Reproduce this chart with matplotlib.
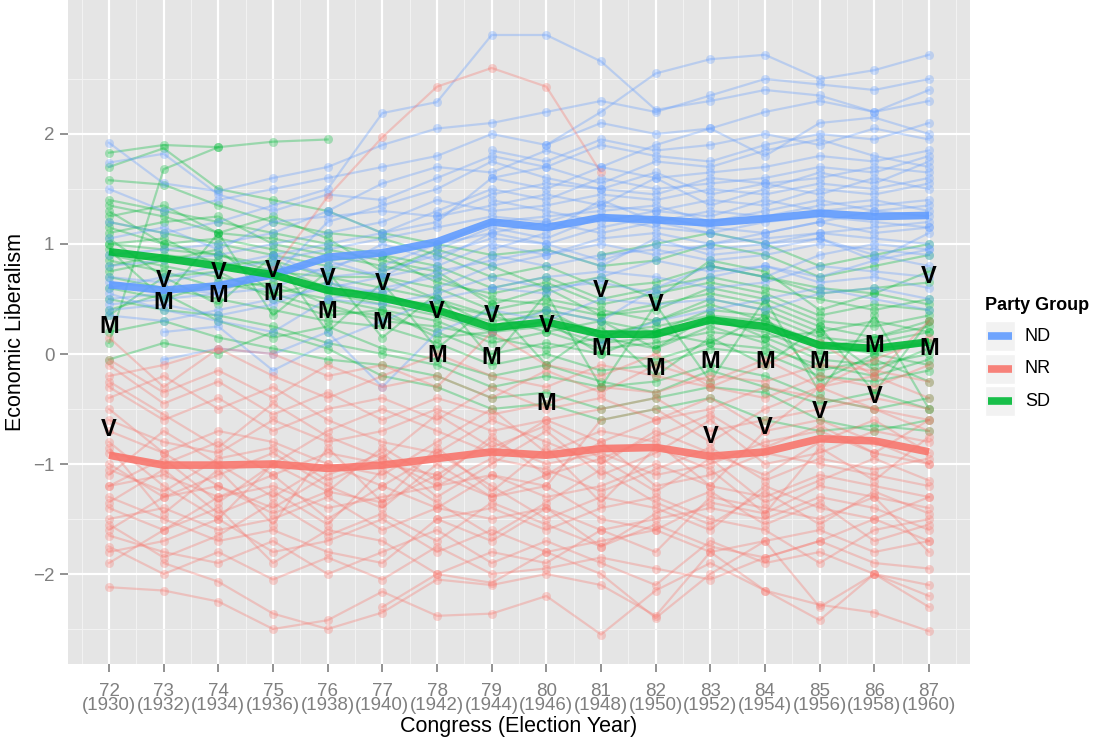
import matplotlib
matplotlib.use("Agg")
import matplotlib.pyplot as plt
import numpy as np
from matplotlib.patches import Rectangle
from matplotlib.lines import Line2D

plt.rcParams['font.family'] = ['Liberation Sans', 'DejaVu Sans']

congress = [72, 73, 74, 75, 76, 77, 78, 79, 80, 81, 82, 83, 84, 85, 86, 87]
years = [1930, 1932, 1934, 1936, 1938, 1940, 1942, 1944, 1946, 1948, 1950, 1952, 1954, 1956, 1958, 1960]
groups = ["ND", "NR", "SD"]
colors = {"ND": "#619CFF", "NR": "#F8766D", "SD": "#00BA38"}

mean_nd = [0.63, 0.58, 0.62, 0.72, 0.88, 0.92, 1.02, 1.20, 1.15, 1.24, 1.22, 1.19, 1.23, 1.28, 1.25, 1.26]
mean_nr = [-0.92, -1.01, -1.01, -1.00, -1.04, -1.01, -0.95, -0.89, -0.92, -0.86, -0.85, -0.93, -0.89, -0.77, -0.79, -0.89]
mean_sd = [0.93, 0.87, 0.80, 0.72, 0.58, 0.51, 0.40, 0.24, 0.29, 0.18, 0.18, 0.31, 0.25, 0.08, 0.05, 0.11]

# M / V label positions per congress
m_pos = [0.25, 0.47, 0.53, 0.55, 0.39, 0.29, -0.01, -0.03, -0.45, 0.05, -0.13, -0.07, -0.07, -0.07, 0.08, 0.05]
v_pos = [-0.69, 0.67, 0.74, 0.76, 0.69, 0.64, 0.39, 0.35, 0.26, 0.58, 0.45, -0.75, -0.67, -0.52, -0.39, 0.70]

N = None
nd_members = [
    [1.92, 1.55, 1.48, 1.60, 1.70, 1.90, 2.05, 2.10, 2.20, 2.30, 2.20, 2.35, 2.50, 2.45, 2.40, 2.50],
    [1.20, 1.10, 1.20, 1.35, 1.50, 2.19, 2.29, 2.90, 2.90, 2.66, 2.22, 2.30, 2.40, 2.35, 2.20, 2.30],
    [N, N, N, N, N, N, N, N, 1.90, 2.20, 2.55, 2.68, 2.72, 2.50, 2.58, 2.72],
    [1.74, 1.82, 1.45, 1.30, 1.45, 1.40, 1.60, 1.80, 1.70, 1.90, 1.80, 1.75, 1.90, 2.00, 1.95, 2.10],
    [0.90, 0.95, 1.00, 1.10, 1.30, 1.55, 1.70, 1.65, 1.85, 1.70, 1.90, 2.05, 1.80, 2.10, 2.15, 2.00],
    [0.60, 0.70, 0.80, 0.90, 1.00, 1.10, 1.30, 1.50, 1.40, 1.60, 1.50, 1.55, 1.60, 1.70, 1.65, 1.80],
    [0.45, 0.50, 0.55, 0.60, 0.80, 0.90, 1.00, 1.20, 1.25, 1.30, 1.35, 1.20, 1.30, 1.40, 1.30, 1.35],
    [0.35, 0.30, 0.40, 0.50, 0.60, 0.70, 0.80, 1.00, 0.90, 1.05, 1.10, 1.00, 1.05, 1.10, 1.15, 1.20],
    [0.55, 0.40, 0.30, 0.20, 0.50, 0.60, 0.70, 0.90, 0.80, 0.90, 0.95, 0.85, 0.90, 1.00, 0.95, 0.90],
    [N, 0.20, 0.25, -0.15, 0.10, 0.30, 0.50, 0.60, 0.70, 0.75, 0.70, 0.60, 0.65, 0.80, 0.75, 0.70],
    [N, -0.05, 0.05, 0.00, 0.20, -0.30, 0.20, 0.40, 0.30, 0.50, 0.45, 0.50, 0.40, 0.55, 0.60, 0.50],
    [0.80, 0.85, 0.90, 1.00, 1.10, 1.20, 1.40, 1.30, 1.35, 1.45, 1.40, 1.50, 1.45, 1.55, 1.50, 1.60],
    [N, N, N, N, 1.30, 1.10, 1.20, 1.60, 1.50, 1.70, 1.60, 1.65, 1.70, 1.80, 1.75, 1.85],
    [N, N, N, N, N, 0.80, 1.00, 1.10, 1.20, 1.10, 1.20, 1.30, 1.25, 1.35, 1.40, 1.30],
    [N, N, N, N, N, N, 0.60, 0.80, 0.90, 1.00, 0.90, 1.00, 1.10, 1.20, 1.10, 1.15],
    [N, N, N, N, N, N, N, 1.40, 1.30, 1.20, 1.30, 1.40, 1.35, 1.50, 1.45, 1.55],
    [N, N, N, N, N, N, N, 0.20, 0.40, 0.30, 0.60, 0.80, 0.70, 0.90, 1.00, 0.95],
    [0.70, 0.65, 0.75, 0.85, 0.95, 1.05, 1.15, 1.25, 1.20, 1.35, 1.30, 1.25, 1.40, 1.30, 1.35, 1.40],
    [1.50, 1.30, 1.40, 1.50, 1.60, 1.70, 1.80, 2.00, 1.90, 2.10, 2.00, 2.05, 2.20, 2.30, 2.20, 2.40],
    [N, N, N, 0.90, 0.70, 0.75, 0.90, 1.05, 1.00, 0.85, 1.00, 0.95, 1.00, 1.10, 1.05, 1.00],
    [N, N, N, N, N, N, N, N, N, 0.10, 0.30, 0.40, 0.50, 0.60, 0.50, 0.40],
    [0.50, 0.55, 0.65, 0.75, 0.85, 0.70, 0.95, 1.15, 1.05, 1.25, 1.15, 1.10, 1.20, 1.25, 1.20, 1.15],
    [N, N, 0.60, 0.70, 1.20, 1.35, 1.50, 1.75, 1.60, 1.50, 1.65, 1.45, 1.55, 1.60, 1.70, 1.65],
    [N, N, N, N, N, N, N, 0.95, 1.10, 1.40, 1.20, 1.10, 1.00, 1.05, 0.90, 0.80],
    [0.40, 0.45, 0.35, 0.45, 0.65, 0.55, 0.75, 0.85, 0.95, 0.80, 1.05, 0.90, 0.95, 1.05, 0.85, 1.10],
    [1.05, 1.15, 0.95, 1.20, 1.25, 1.30, 1.25, 1.45, 1.55, 1.50, 1.45, 1.60, 1.55, 1.45, 1.60, 1.50],
    [N, N, N, N, N, N, N, 1.85, 1.75, 1.95, 1.85, 1.90, 2.00, 1.90, 2.05, 1.95],
    [N, N, N, N, N, N, N, 0.60, 0.55, 0.70, 0.85, 0.75, 0.80, 0.70, 0.85, 0.95],
    [0.65, 0.60, 0.55, 0.80, 0.75, 1.00, 0.85, 1.10, 1.00, 1.15, 1.25, 1.15, 1.10, 1.20, 1.30, 1.25],
    [N, N, N, N, N, N, N, 1.60, 1.70, 1.55, 1.75, 1.70, 1.85, 1.95, 1.80, 1.70],
    [N, N, N, N, 0.50, 0.45, 0.55, 0.70, 0.60, 0.65, 0.55, 0.70, 0.80, 0.65, 0.70, 0.60],
    [N, N, N, N, N, N, 1.25, 1.35, 1.45, 1.35, 1.60, 1.35, 1.50, 1.65, 1.55, 1.75],
]

nr_members = [
    [0.15, -0.30, 0.05, 0.00, -0.20, -0.10, -0.30, 0.20, -0.10, -0.20, 0.00, -0.30, -0.10, 0.10, -0.20, 0.30],
    [-0.30, -0.60, -0.40, -0.70, -0.50, -0.40, -0.60, -0.30, -0.50, -0.40, -0.60, -0.50, -0.30, -0.40, -0.50, -0.60],
    [-0.60, -0.80, -0.90, -0.60, -0.80, -0.70, -0.50, -0.70, -0.60, -0.50, -0.40, -0.70, -0.60, -0.50, -0.40, -0.50],
    [-0.90, -1.00, -0.80, -1.10, -0.90, -1.00, -1.10, -0.80, -1.00, -0.90, -1.10, -1.00, -0.80, -0.70, -0.90, -1.00],
    [-1.20, -1.10, -1.30, -1.20, -1.40, -1.30, -1.20, -1.10, -1.30, -1.20, -1.00, -1.20, -1.30, -1.10, -1.20, -1.30],
    [-1.50, -1.40, -1.60, -1.50, -1.30, -1.60, -1.40, -1.50, -1.40, -1.60, -1.50, -1.40, -1.50, -1.30, -1.40, -1.60],
    [-1.80, -1.70, -1.50, -1.80, -1.70, -1.50, -1.80, -1.60, -1.80, -1.70, -1.60, -1.80, -1.70, -1.60, -1.80, -1.70],
    [-2.12, -2.15, -2.25, -2.50, -2.42, -2.16, -2.38, -2.36, -2.20, -2.55, -2.15, -1.90, -2.15, -2.28, -2.35, -2.52],
    [N, -1.90, -2.07, -2.36, -2.50, -2.35, -2.05, -2.10, -2.00, -2.10, -2.38, -1.80, -2.15, -2.42, -2.00, -2.30],
    [-0.40, -0.20, -0.50, -0.30, -0.60, -0.80, -0.90, -0.60, -0.80, -1.00, -0.70, -0.90, -1.10, -0.80, -0.60, -0.90],
    [-1.00, -1.30, -1.10, -0.90, -1.20, -1.40, -1.00, -1.30, -1.10, -0.80, -1.20, -1.10, -0.90, -1.00, -1.10, -1.20],
    [-0.70, -0.90, -1.20, -1.40, -1.10, -0.90, -1.30, -1.00, -0.70, -1.10, -0.90, -0.60, -1.00, -0.90, -0.70, -0.80],
    [-1.40, -1.60, -1.30, -1.10, -1.50, -1.20, -0.90, -1.20, -1.50, -1.30, -1.40, -1.60, -1.20, -1.40, -1.50, -1.30],
    [-1.65, -1.80, -1.90, -1.70, -2.00, -1.80, -1.60, -1.90, -1.70, -1.90, -2.10, -1.70, -1.90, -1.80, -2.00, -2.10],
    [-0.20, -0.10, 0.05, -0.20, -0.40, -0.20, 0.00, -0.20, -0.30, -0.10, -0.20, -0.30, -0.40, -0.20, -0.30, -0.10],
    [N, N, N, 0.76, 1.43, 1.97, 2.43, 2.60, 2.43, 1.65, N, N, N, N, N, N],
    [-1.10, -0.70, -1.00, -1.30, -1.00, -1.10, -0.80, -0.50, -0.90, -0.70, -0.80, -1.20, -0.70, -0.60, -0.80, -1.00],
    [-1.30, -1.50, -1.70, -1.60, -1.80, -1.90, -1.50, -1.40, -1.60, -1.40, -1.30, -1.50, -1.60, -1.90, -1.60, -1.50],
    [-0.50, -0.90, -0.70, -0.80, -1.00, -1.20, -1.40, -1.10, -1.20, -0.60, -0.50, -0.80, -0.50, -0.30, -0.20, -0.40],
    [N, N, N, N, N, -2.30, -2.00, -2.08, -1.80, -2.00, -2.40, -2.00, -1.70, -2.30, -2.00, -2.20],
    [-0.80, -1.20, -1.50, -1.00, -0.70, -0.50, -0.70, -0.90, -0.60, -0.80, -0.60, -0.40, -0.70, -0.30, -0.50, -0.70],
    [-1.90, -1.60, -1.40, -1.90, -1.60, -1.70, -2.00, -1.80, -1.90, -1.60, -1.80, -1.30, -1.40, -1.50, -1.30, -1.80],
    [-1.05, -1.25, -0.95, -0.85, -1.15, -0.95, -1.20, -0.95, -1.05, -1.25, -1.05, -0.85, -1.15, -0.95, -1.05, -0.95],
    [-0.10, -0.45, -0.25, -0.55, -0.35, -0.60, -0.40, -0.55, -0.45, -0.30, -0.35, -0.20, -0.25, -0.10, -0.15, -0.25],
    [-1.60, -1.30, -1.20, -1.45, -1.25, -1.35, -1.10, -1.30, -1.20, -1.50, -1.60, -1.35, -1.45, -1.20, -1.30, -1.40],
    [-0.25, -0.55, -0.85, -0.45, -0.75, -0.95, -0.55, -0.85, -0.65, -0.95, -0.75, -0.55, -0.85, -0.65, -0.90, -0.60],
    [-1.35, -1.05, -1.45, -1.25, -1.55, -1.05, -1.35, -1.65, -1.35, -1.05, -1.35, -1.55, -1.25, -1.55, -1.25, -1.45],
    [-0.85, -1.45, -1.05, -1.55, -0.85, -1.35, -0.85, -1.25, -0.85, -1.35, -0.85, -1.05, -1.45, -0.85, -1.15, -0.75],
    [-1.75, -2.00, -1.80, -2.05, -1.85, -2.05, -1.75, -2.00, -1.95, -1.85, -1.95, -2.05, -1.85, -1.70, -1.90, -1.95],
    [N, N, N, N, N, N, -1.50, -1.70, -1.40, -1.75, -1.45, -1.25, -1.55, -1.35, -1.70, -1.55],
    [-0.05, -0.35, -0.15, -0.40, -0.10, -0.30, -0.20, -0.40, -0.15, -0.35, -0.10, -0.25, -0.05, -0.30, -0.05, 0.15],
    [-1.20, -0.95, -1.35, -1.00, -1.25, -0.85, -1.15, -0.75, -1.10, -0.95, -1.25, -0.95, -1.35, -1.15, -0.95, -1.15],
    [-1.55, -1.85, -1.65, -1.35, -1.65, -1.45, -1.70, -1.35, -1.55, -1.75, -1.55, -1.75, -1.85, -1.70, -1.50, -1.70],
]

sd_members = [
    [1.83, 1.90, 1.88, 1.93, 1.95, N, N, N, N, N, N, N, N, N, N, N],
    [1.70, 1.87, 1.50, 1.40, 1.30, 1.10, 1.00, 0.90, 0.95, 0.80, 0.85, 1.00, 0.90, 0.70, 0.80, 0.90],
    [1.58, 1.54, 1.35, 1.20, 1.10, 1.05, 0.90, 0.70, 0.80, 0.60, 0.65, 0.80, 0.70, 0.55, 0.60, 0.65],
    [0.10, 1.68, 1.88, N, N, N, N, N, N, N, N, N, N, N, N, N],
    [1.40, 1.30, 1.20, 1.10, 1.00, 0.90, 0.80, 0.60, 0.70, 0.50, 0.60, 0.70, 0.60, 0.50, 0.40, 0.50],
    [1.20, 1.10, 1.00, 0.90, 0.80, 0.70, 0.60, 0.40, 0.50, 0.40, 0.30, 0.50, 0.40, 0.20, 0.30, 0.20],
    [1.00, 0.95, 0.90, 0.80, 0.60, 0.55, 0.40, 0.30, 0.35, 0.20, 0.25, 0.35, 0.30, 0.10, 0.00, 0.10],
    [0.90, 0.80, 0.70, 0.60, 0.50, 0.40, 0.30, 0.10, 0.20, 0.05, 0.10, 0.20, 0.15, -0.05, -0.10, 0.00],
    [0.70, 0.60, 0.50, 0.40, 0.30, 0.25, 0.10, -0.10, 0.00, -0.15, -0.10, 0.05, 0.00, -0.20, -0.25, -0.15],
    [0.50, 0.40, 0.35, 0.25, 0.10, 0.00, -0.10, -0.30, -0.20, -0.30, -0.25, -0.10, -0.20, -0.40, -0.50, -0.40],
    [0.20, 0.30, 0.15, 0.05, -0.05, -0.10, -0.20, -0.40, -0.35, -0.50, -0.40, -0.30, -0.35, -0.60, -0.70, -0.60],
    [1.10, 1.20, 1.25, 1.00, 0.90, 0.80, 0.70, 0.50, 0.45, 0.35, 0.40, 0.60, 0.50, 0.30, 0.25, 0.35],
    [0.80, 0.90, 0.85, 0.70, 0.55, 0.45, 0.35, 0.20, 0.25, 0.10, 0.15, 0.30, 0.20, 0.00, 0.05, 0.10],
    [1.30, 1.00, 0.90, 0.75, 0.70, 0.60, 0.50, 0.35, 0.40, 0.30, 0.20, 0.40, 0.35, 0.15, 0.10, 0.20],
    [0.60, 0.50, 0.65, 0.55, 0.40, 0.35, 0.20, 0.00, 0.10, 0.00, -0.05, 0.10, 0.05, -0.10, -0.20, -0.05],
    [N, N, N, N, N, N, N, N, N, 0.90, 1.00, 1.10, 1.00, 0.80, 0.90, 1.00],
    [-0.05, 0.10, 0.00, 0.20, 0.05, -0.20, -0.30, -0.50, -0.45, -0.60, -0.50, -0.40, -0.60, -0.70, -0.65, -0.70],
    [1.25, 1.35, 1.10, 1.25, 1.05, 0.75, 0.95, 0.80, 0.60, 0.70, 0.50, 0.85, 0.75, 0.40, 0.55, 0.75],
    [0.35, 0.70, 0.45, 0.90, 0.20, 0.65, 0.05, 0.45, -0.10, 0.25, -0.20, 0.15, -0.10, 0.25, -0.35, 0.30],
    [0.95, 0.50, 1.10, 0.35, 0.75, 0.15, 0.55, -0.05, 0.55, -0.30, 0.45, -0.25, 0.50, -0.35, 0.35, -0.50],
    [1.15, 1.00, 1.05, 0.95, 0.85, 0.90, 0.65, 0.55, 0.65, 0.45, 0.55, 0.65, 0.55, 0.35, 0.45, 0.40],
    [0.85, 0.75, 0.60, 0.65, 0.45, 0.30, 0.25, 0.15, 0.05, 0.15, 0.05, 0.25, 0.10, -0.15, -0.05, -0.25],
    [1.35, 1.25, 1.10, 1.05, 0.95, 0.85, 0.75, 0.45, 0.60, 0.35, 0.45, 0.55, 0.45, 0.25, 0.15, 0.30],
    [0.40, 0.55, 0.30, 0.15, 0.25, 0.05, -0.05, -0.20, -0.10, -0.25, -0.35, -0.15, -0.30, -0.45, -0.35, -0.50],
    [1.00, 1.05, 0.80, 0.85, 0.70, 0.70, 0.50, 0.25, 0.40, 0.15, 0.30, 0.45, 0.30, 0.05, 0.15, 0.25],
    [N, N, N, N, N, N, N, N, N, N, N, 0.80, 0.70, 0.60, 0.55, 0.45],
    [0.75, 0.85, 0.95, 0.55, 0.65, 0.50, 0.45, 0.35, 0.20, 0.30, 0.05, 0.35, 0.15, 0.20, -0.15, 0.05],
    [1.05, 0.70, 0.75, 0.50, 0.35, 0.40, 0.15, 0.20, 0.30, 0.00, 0.20, 0.10, 0.35, -0.25, 0.00, -0.10],
]

W, H = 1099, 744
fig = plt.figure(figsize=(W / 100, H / 100), dpi=100)
ax = fig.add_axes([68 / W, 1 - 664 / H, (970 - 68) / W, 664 / H])
ax.set_facecolor("#E5E5E5")
for s in ax.spines.values():
    s.set_visible(False)

x = np.array(congress, dtype=float)
members = {"ND": nd_members, "NR": nr_members, "SD": sd_members}
for g in ["SD", "ND", "NR"]:
    for row in members[g]:
        y = np.array([np.nan if v is None else v for v in row], dtype=float)
        ax.plot(x, y, color=colors[g], alpha=0.33, lw=1.6, zorder=2)
        ax.plot(x, y, 'o', color=colors[g], alpha=0.3, ms=6.5, mec='none', zorder=2)

means = {"ND": mean_nd, "NR": mean_nr, "SD": mean_sd}
for g in groups:
    ax.plot(x, means[g], color=colors[g], lw=5.5, alpha=0.9, solid_capstyle='butt', zorder=3)

for c, m, v in zip(congress, m_pos, v_pos):
    ax.text(c, m, "M", ha='center', va='center', fontsize=17, fontweight='bold', color='black', zorder=4)
    ax.text(c, v, "V", ha='center', va='center', fontsize=17, fontweight='bold', color='black', zorder=4)

ax.set_xlim(71.25, 87.75)
ax.set_ylim(-2.818, 3.218)
ax.set_xticks(congress)
ax.set_xticklabels([f"{c}\n({y})" for c, y in zip(congress, years)], color="#7F7F7F", fontsize=13.5, linespacing=0.78)
ax.set_yticks([-2, -1, 0, 1, 2])
ax.set_yticklabels(["\u22122", "\u22121", "0", "1", "2"], color="#7F7F7F", fontsize=13.5)
ax.set_xticks(np.arange(71.5, 88, 1.0), minor=True)
ax.set_yticks(np.arange(-2.5, 3.1, 1.0), minor=True)
ax.tick_params(axis='x', which='major', length=5.8, width=1.2, color="#7F7F7F", pad=8)
ax.tick_params(axis='y', which='major', length=5.8, width=1.2, color="#7F7F7F", pad=4)
ax.tick_params(axis='both', which='minor', length=0)
ax.grid(which='major', color='white', lw=1.6, zorder=0)
ax.grid(which='minor', color='#F2F2F2', lw=0.8, zorder=0)
ax.set_axisbelow(True)
ax.set_xlabel("Congress (Election Year)", fontsize=15.5, labelpad=1)
ax.set_ylabel("Economic Liberalism", fontsize=15.5, labelpad=5)

# legend
fig.text(985 / W, 1 - 305 / H, "Party Group", fontsize=13, fontweight='bold', va='center', ha='left')
for i, g in enumerate(groups):
    yc = 336 + i * 32.5
    fig.add_artist(Rectangle((985 / W, 1 - (yc + 15) / H), 30 / W, 30 / H, transform=fig.transFigure,
                             facecolor="#F2F2F2", edgecolor='white', lw=1))
    fig.add_artist(Line2D([988 / W, 1012 / W], [1 - yc / H, 1 - yc / H], transform=fig.transFigure,
                          color=colors[g], lw=5.5, alpha=0.9, solid_capstyle='butt'))
    fig.text(1025 / W, 1 - yc / H, g, fontsize=13, va='center', ha='left')

fig.savefig("out.png", dpi=100)
